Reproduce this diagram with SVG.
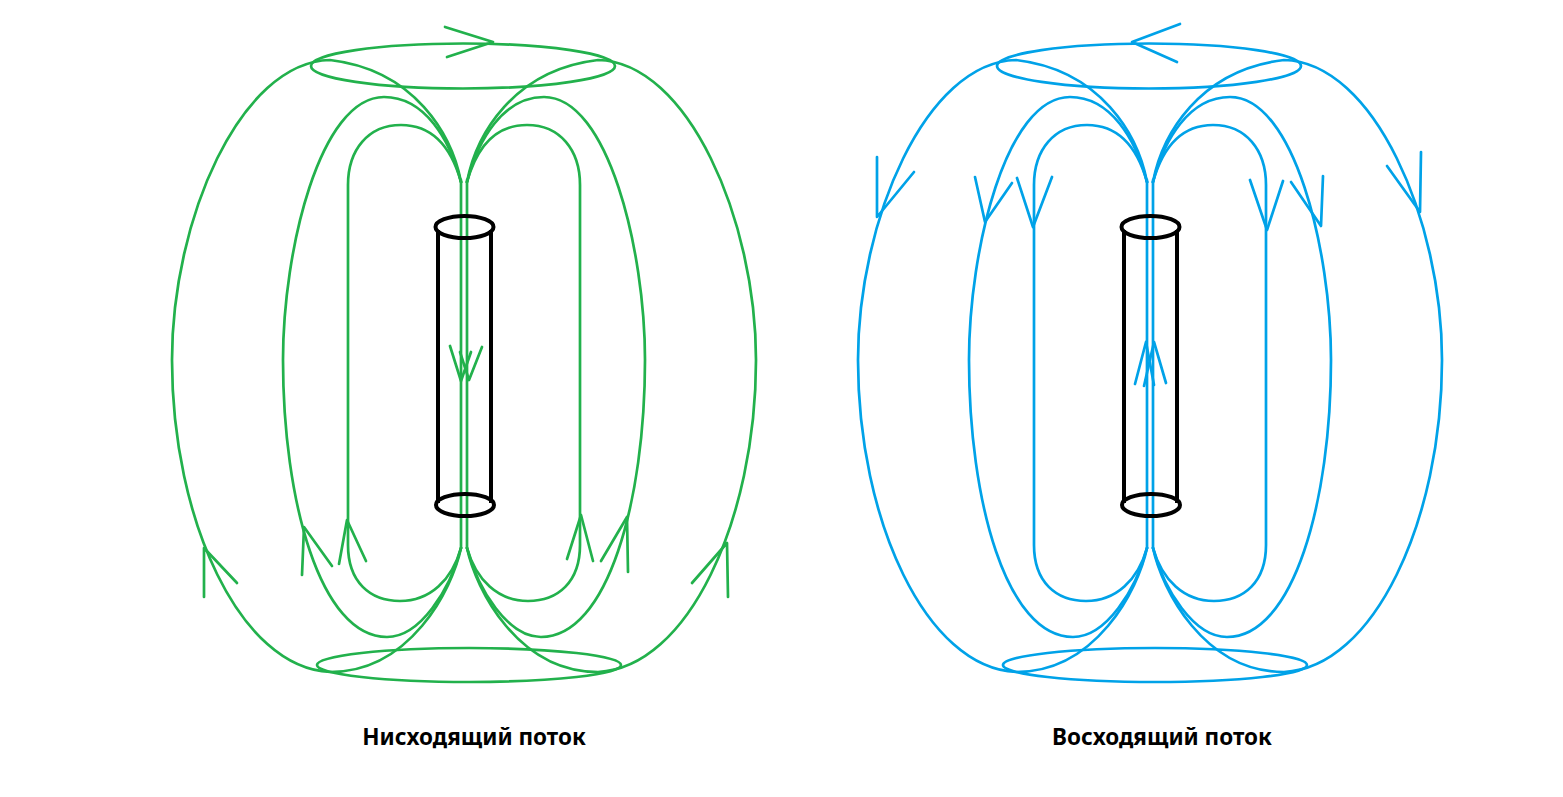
<svg xmlns="http://www.w3.org/2000/svg" xmlns:xlink="http://www.w3.org/1999/xlink" width="1563" height="797" viewBox="0 0 1563 797">
<style>
  .fl { fill: none; stroke-width: 2.7; stroke-linecap: round; stroke-linejoin: round; }
  .green { stroke: #22B14C; }
  .blue { stroke: #00A2E8; }
  .cyl { fill: none; stroke: #000; stroke-width: 4; }
  .label { font-family: "Noto Sans", "Open Sans", sans-serif; font-weight: bold; font-size: 22.5px; fill: #000; text-anchor: middle; }
</style>
<defs>
  <g id="half">
    <path d="M 461,182 C 452,135 415,70 330,60 C 240,62 172,220 172,360 C 172,520 240,668 330,672 C 410,672 452,590 461,548"/>
    <path d="M 461,182 C 450,140 425,97 384,97 C 320,97 283,250 283,360 C 283,500 320,637 387,637 C 420,637 450,590 461,548"/>
    <path d="M 461,182 C 452,150 435,125 401,125 C 368,125 348,150 348,185 L 348,545 C 348,582 370,601 400,601 C 430,601 452,580 461,548"/>
  </g>
  <g id="field">
    <use xlink:href="#half"/>
    <use xlink:href="#half" transform="matrix(-1 0 0 1 928 0)"/>
    <path d="M 461,180 L 461,548 M 467,180 L 467,548"/>
    <ellipse cx="463" cy="66" rx="152" ry="22.5"/>
    <ellipse cx="469" cy="665" rx="152" ry="17"/>
  </g>
  <g id="cylinder">
    <path d="M 438,230 L 438,503 M 491,230 L 491,503"/>
    <ellipse cx="464.5" cy="227" rx="29" ry="11"/>
    <ellipse cx="465" cy="505" rx="29" ry="11"/>
  </g>
</defs>

<g id="downflow">
  <g id="downflow-lines" class="fl green">
    <use xlink:href="#field"/>
  </g>
  <g id="downflow-arrows" class="fl green">
    <path d="M 445,27 L 493,42 L 447,57"/>
    <path d="M 204,597 L 204,548 L 237,583"/>
    <path d="M 302,575 L 304,527 L 332,566"/>
    <path d="M 339,564 L 347,520 L 366,561"/>
    <path d="M 567,559 L 581,515 L 593,561"/>
    <path d="M 601,561 L 627,517 L 628,572"/>
    <path d="M 692,583 L 727,543 L 728,597"/>
    <path d="M 450,346 L 461,381 L 471,352"/>
    <path d="M 460,352 L 469,380 L 482,347"/>
  </g>
  <g id="downflow-cylinder" class="cyl">
    <use xlink:href="#cylinder"/>
  </g>
  <text class="label" x="474" y="745">Нисходящий поток</text>
</g>

<g id="upflow">
  <g id="upflow-lines" class="fl blue">
    <use xlink:href="#field" transform="translate(686,0)"/>
  </g>
  <g id="upflow-arrows" class="fl blue">
    <path d="M 1180,24 L 1132,42 L 1177,62"/>
    <path d="M 877,157 L 877,217 L 914,172"/>
    <path d="M 975,177 L 985,222 L 1012,183"/>
    <path d="M 1017,178 L 1033,227 L 1052,177"/>
    <path d="M 1250,180 L 1267,230 L 1283,181"/>
    <path d="M 1291,182 L 1321,226 L 1323,176"/>
    <path d="M 1387,166 L 1420,212 L 1421,152"/>
    <path d="M 1135,384 L 1146,342 L 1154,385"/>
    <path d="M 1144,386 L 1154,342 L 1166,383"/>
  </g>
  <g id="upflow-cylinder" class="cyl">
    <use xlink:href="#cylinder" transform="translate(686,0)"/>
  </g>
  <text class="label" x="1162" y="745">Восходящий поток</text>
</g>
</svg>
